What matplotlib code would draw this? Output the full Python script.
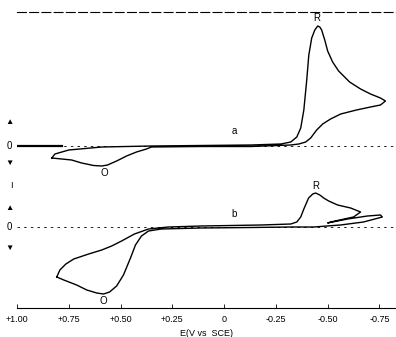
import matplotlib
matplotlib.use("Agg")
import matplotlib.pyplot as plt
import matplotlib.transforms as mtrans

# curve a (upper trace): potential (V vs SCE) and current (arb. units), in scan order
E_a = [0.832, 0.817, 0.750, 0.591, 0.351, 0.111, -0.130, -0.274, -0.322, -0.351,
       -0.370, -0.385, -0.399, -0.409, -0.423, -0.438, -0.452, -0.462, -0.471, -0.486,
       -0.500, -0.524, -0.553, -0.606, -0.659, -0.707, -0.755, -0.779,
       -0.755, -0.707, -0.639, -0.563, -0.514, -0.476, -0.447, -0.418, -0.394, -0.361,
       -0.322, -0.130, 0.111, 0.351, 0.375, 0.423, 0.471, 0.519, 0.563, 0.591,
       0.630, 0.688, 0.736, 0.784, 0.832]
i_a = [-1.2, -0.8, -0.4, -0.1, 0.0, 0.05, 0.1, 0.2, 0.4, 0.9,
       1.8, 3.6, 6.6, 9.1, 10.8, 11.6, 12.0, 11.9, 11.6, 10.6,
       9.5, 8.4, 7.5, 6.4, 5.7, 5.2, 4.8, 4.5,
       4.1, 3.9, 3.6, 3.2, 2.7, 2.2, 1.6, 0.8, 0.4, 0.2,
       0.1, -0.05, -0.05, -0.1, -0.3, -0.6, -1.0, -1.5, -1.9, -2.0,
       -1.95, -1.7, -1.4, -1.3, -1.2]

# curve b (lower trace)
E_b = [0.808, 0.793, 0.764, 0.726, 0.654, 0.591, 0.543, 0.495, 0.433, 0.365,
       0.269, 0.111, -0.034, -0.178, -0.322, -0.351, -0.370, -0.385, -0.408, -0.428,
       -0.442, -0.462, -0.481, -0.505, -0.548, -0.611, -0.659,
       -0.625, -0.514, -0.500, -0.596, -0.692, -0.755, -0.764,
       -0.673, -0.562, -0.433, -0.322, -0.130, 0.111, 0.303, 0.365, 0.399,
       0.428, 0.452, 0.486, 0.519, 0.553, 0.582, 0.615, 0.663, 0.712, 0.774, 0.808]
i_b = [-5.0, -4.3, -3.7, -3.2, -2.7, -2.3, -1.9, -1.4, -0.7, -0.2,
       0.0, 0.1, 0.15, 0.2, 0.3, 0.5, 1.0, 1.8, 2.9, 3.3,
       3.4, 3.2, 2.9, 2.6, 2.2, 1.9, 1.5,
       1.0, 0.5, 0.4, 0.8, 1.1, 1.2, 1.0,
       0.5, 0.2, 0.0, 0.0, -0.05, -0.1, -0.2, -0.4, -0.9,
       -1.8, -3.1, -4.8, -5.9, -6.5, -6.7, -6.6, -6.3, -5.8, -5.3, -5.0]

xticks = [1.0, 0.75, 0.5, 0.25, 0.0, -0.25, -0.5, -0.75]
xticklabels = ["+1.00", "+0.75", "+0.50", "+0.25", "0", "-0.25", "-0.50", "-0.75"]

plt.rcParams['font.family'] = ['Liberation Sans', 'DejaVu Sans']

fig = plt.figure(figsize=(3.96, 3.37), dpi=100)
W, H = 396, 337
left, right = 17 / W, 1.0
bot_px, mid_px, top_px = 308, 178, 12
ax1 = fig.add_axes([left, 1 - mid_px / H, right - left, (mid_px - top_px) / H])
ax2 = fig.add_axes([left, 1 - bot_px / H, right - left, (bot_px - mid_px) / H], sharex=ax1)

xlim = (1.0, -0.83)
ax1.plot(E_a, i_a, color="black", lw=1.0)
ax1.set_xlim(*xlim)
ax1.set_ylim(-3.2, 13.4)
ax2.plot(E_b, i_b, color="black", lw=1.0)
ax2.set_ylim(-8.1, 4.9)

for ax in (ax1, ax2):
    ax.axhline(0, color="black", lw=0.6, ls=(0, (3, 5)), zorder=0)
    ax.spines["left"].set_visible(False)
    ax.spines["right"].set_visible(False)
    ax.set_yticks([])
# heavy baseline stub at the left of the upper trace
ax1.axhline(0, xmin=0.0, xmax=0.12, color="black", lw=1.6, zorder=1)

ax1.spines["bottom"].set_visible(False)
ax1.spines["top"].set_linestyle((0, (8, 3)))
ax1.spines["top"].set_linewidth(0.8)
ax1.tick_params(axis="x", bottom=False, labelbottom=False)
ax2.spines["top"].set_visible(False)
ax2.spines["bottom"].set_linewidth(0.8)

ax2.set_xticks(xticks)
ax2.set_xticklabels(xticklabels)
ax2.tick_params(axis="x", direction="in", length=3, width=0.6, labelsize=6.5, pad=5)
ax2.set_xlabel("E(V vs  SCE)", fontsize=6.5, labelpad=4)

# left-side current markers
tr1 = mtrans.blended_transform_factory(ax1.transAxes, ax1.transData)
tr2 = mtrans.blended_transform_factory(ax2.transAxes, ax2.transData)
ax1.text(-0.012, 0, "0", transform=tr1, ha="right", va="center", fontsize=7)
ax1.text(-0.008, 2.4, "\u25B2", transform=tr1, ha="right", va="center", fontsize=6)
ax1.text(-0.008, -1.7, "\u25BC", transform=tr1, ha="right", va="center", fontsize=6)
ax2.text(-0.012, 0, "0", transform=tr2, ha="right", va="center", fontsize=7)
ax2.text(-0.012, 4.2, "I", transform=tr2, ha="right", va="center", fontsize=6.5)
ax2.text(-0.008, 1.9, "\u25B2", transform=tr2, ha="right", va="center", fontsize=6)
ax2.text(-0.008, -2.1, "\u25BC", transform=tr2, ha="right", va="center", fontsize=6)

# peak / trace labels
ax1.text(-0.447, 12.3, "R", ha="center", va="bottom", fontsize=7)
ax1.text(0.58, -2.2, "O", ha="center", va="top", fontsize=7)
ax1.text(-0.05, 1.0, "a", ha="center", va="bottom", fontsize=7)
ax2.text(-0.442, 3.6, "R", ha="center", va="bottom", fontsize=7)
ax2.text(0.582, -6.9, "O", ha="center", va="top", fontsize=7)
ax2.text(-0.05, 0.8, "b", ha="center", va="bottom", fontsize=7)

fig.savefig("out.png", dpi=100)
